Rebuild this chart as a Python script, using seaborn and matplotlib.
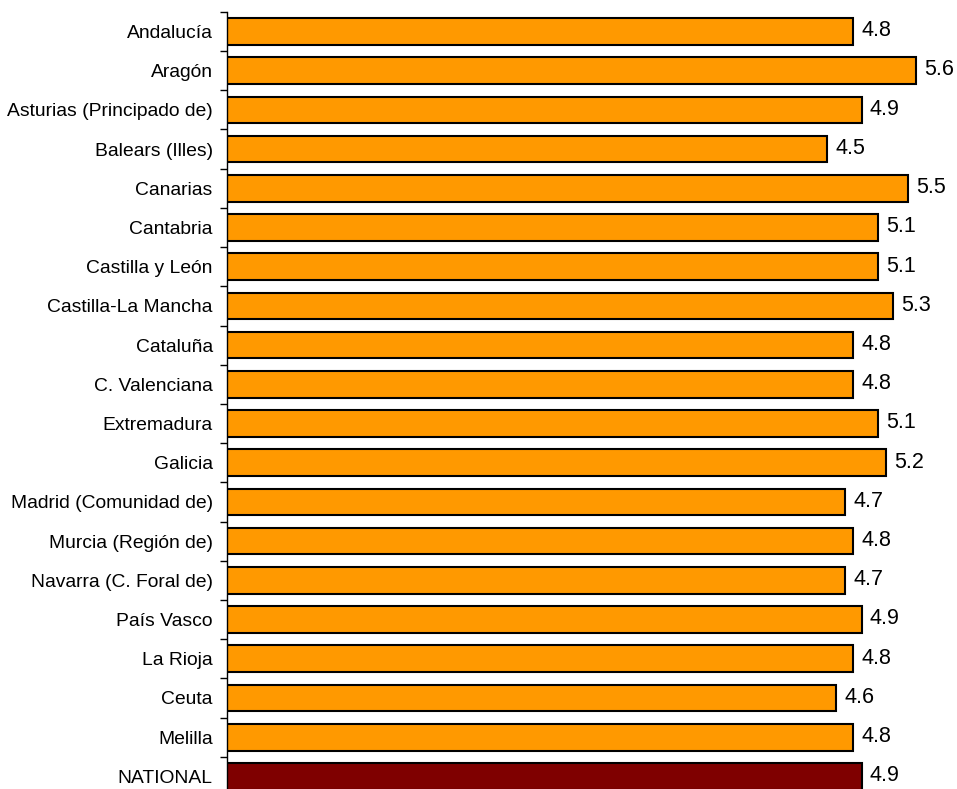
import matplotlib
matplotlib.use("Agg")
import matplotlib.pyplot as plt
import seaborn as sns
import pandas as pd
import numpy as np

regions = [
    "Andalucía", "Aragón", "Asturias (Principado de)", "Balears (Illes)",
    "Canarias", "Cantabria", "Castilla y León", "Castilla-La Mancha",
    "Cataluña", "C. Valenciana", "Extremadura", "Galicia",
    "Madrid (Comunidad de)", "Murcia (Región de)", "Navarra (C. Foral de)",
    "País Vasco", "La Rioja", "Ceuta", "Melilla", "NATIONAL",
]
values = [4.8, 5.6, 4.9, 4.5, 5.5, 5.1, 5.1, 5.3, 4.8, 4.8,
          5.1, 5.2, 4.7, 4.8, 4.7, 4.9, 4.8, 4.6, 4.8, 4.9]
groups = ["region"] * 19 + ["national"]
palette = {"region": "#FF9900", "national": "#7F0000"}

df = pd.DataFrame({"region": regions, "value": values, "group": groups})

sns.set_style("white")
plt.rcParams["font.family"] = ["Liberation Sans", "DejaVu Sans"]
plt.rcParams["text.color"] = "black"
plt.rcParams["ytick.color"] = "black"
plt.rcParams["ytick.labelcolor"] = "black"

fig = plt.figure(figsize=(9.57, 7.89), dpi=100)
ax = fig.add_axes([0.2367, -0.0089, 0.9718, 0.9939])

sns.barplot(data=df, x="value", y="region", hue="group", palette=palette,
            orient="h", width=0.68, edgecolor="black", linewidth=1.5,
            saturation=1, legend=False, dodge=False, ax=ax)

# logarithmic value axis starting at 1
ax.set_xscale("log")
ax.set_xlim(1.017, 10.17)
ax.set_ylim(len(regions) - 0.5, -0.5)

for i, v in enumerate(values):
    ax.annotate(f"{v:.1f}", xy=(v, i), xytext=(6, 0.5), textcoords="offset points",
                va="center", ha="left", fontsize=15.5, color="black")

ax.set_xlabel("")
ax.set_ylabel("")
ax.xaxis.set_visible(False)
for side in ["top", "right", "bottom"]:
    ax.spines[side].set_visible(False)
ax.spines["left"].set_color("black")
ax.spines["left"].set_linewidth(1.0)

ax.set_yticks(np.arange(len(regions)))
ax.set_yticklabels(regions, fontsize=13.9)
ax.set_yticks(np.arange(len(regions) + 1) - 0.5, minor=True)
ax.tick_params(axis="y", which="major", length=0, pad=10)
ax.tick_params(axis="y", which="minor", length=5, width=1.0, color="black",
               direction="out", left=True)

fig.savefig("out.png", dpi=100)
